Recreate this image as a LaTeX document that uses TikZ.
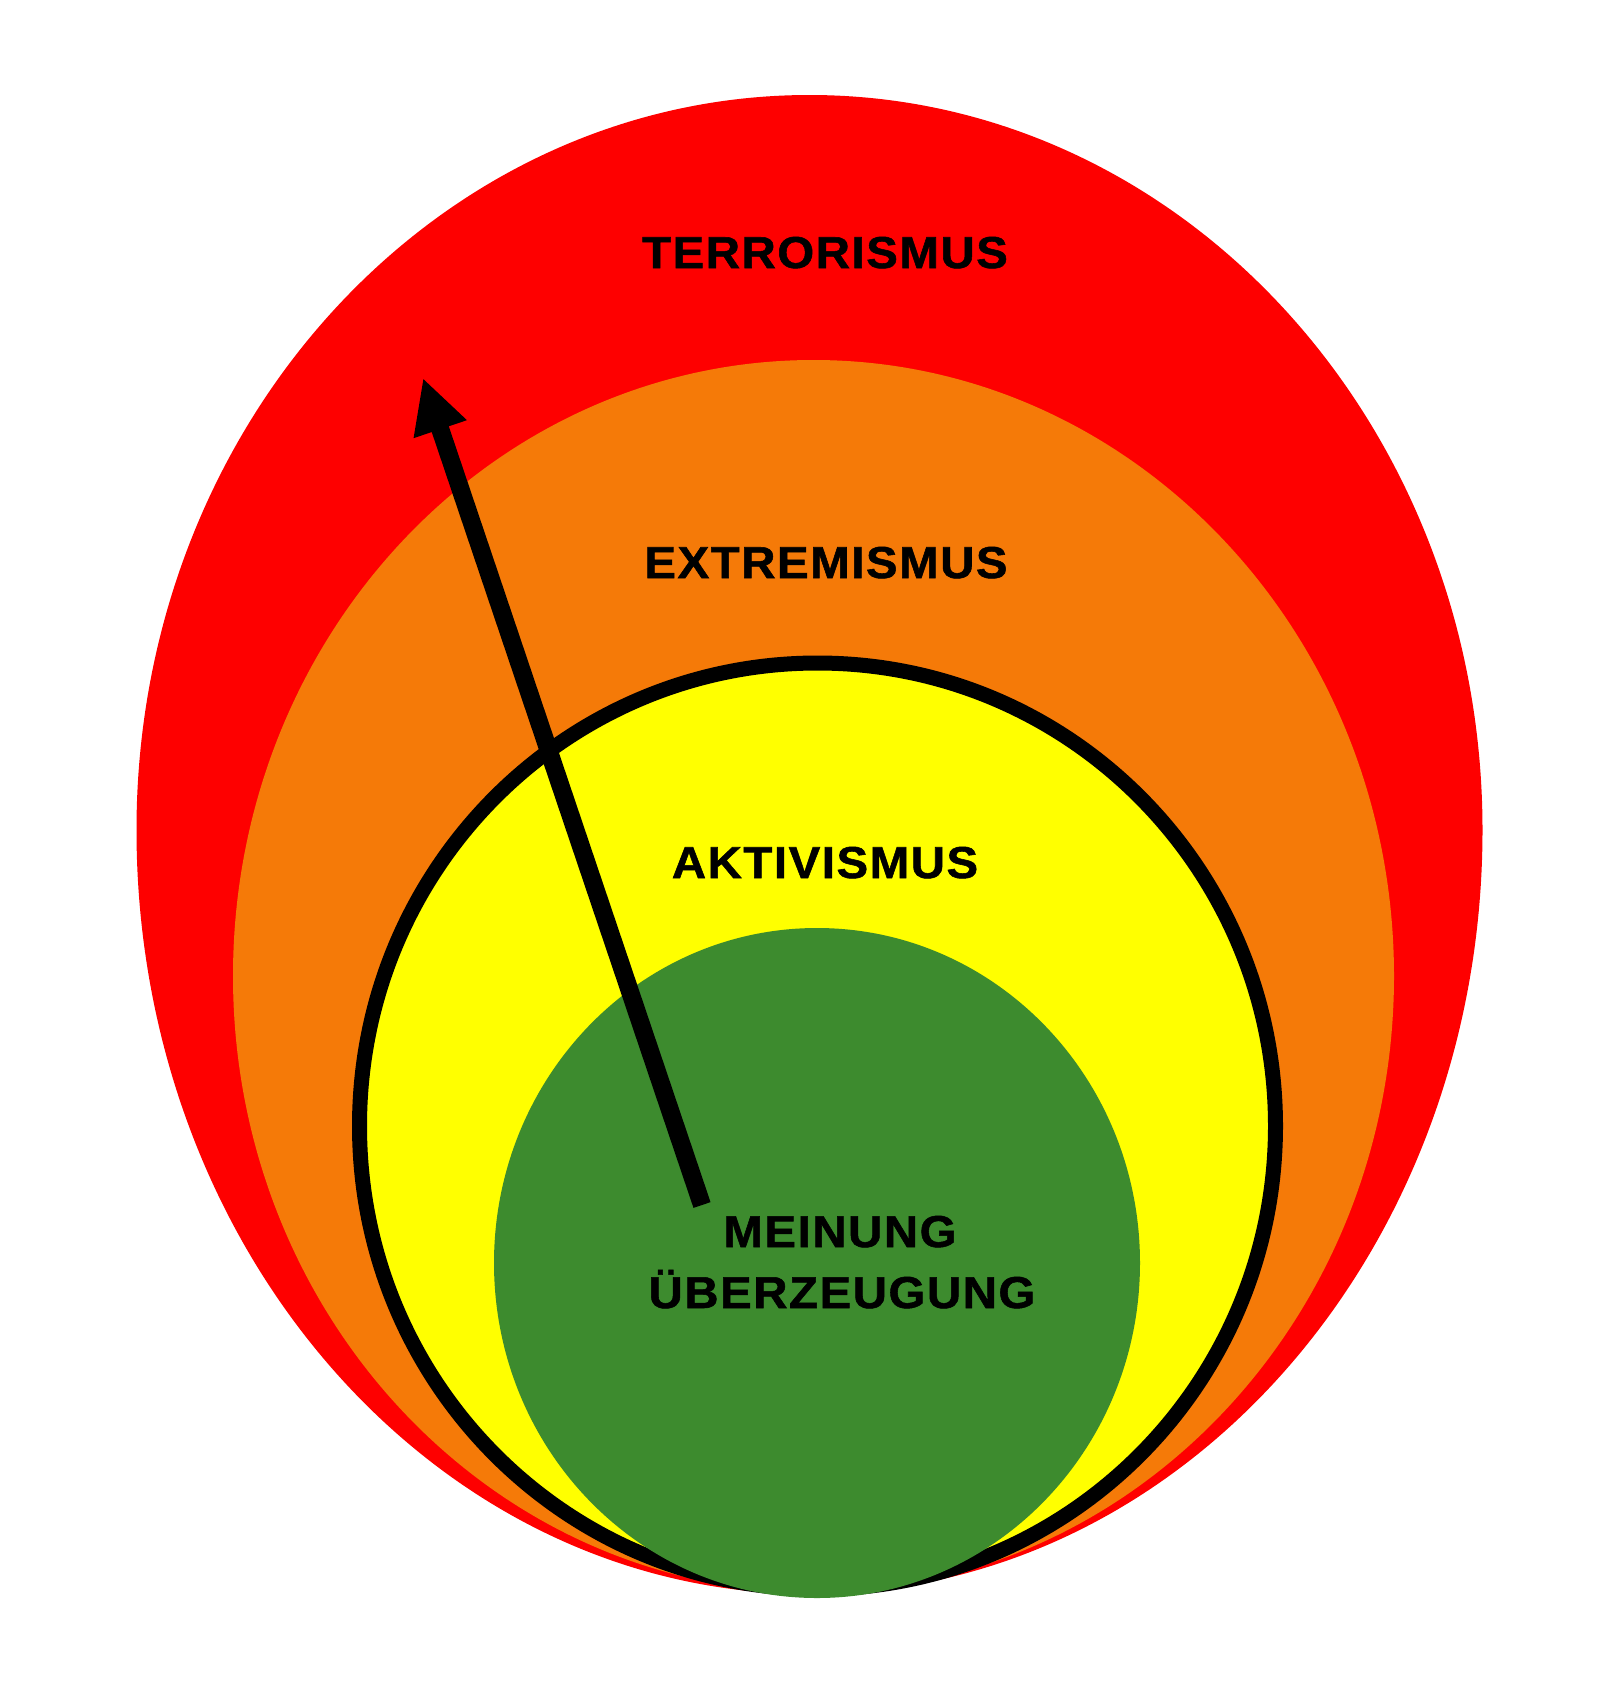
\documentclass[tikz,border=0pt]{standalone}
\usepackage{fontspec}
\setmainfont{Liberation Sans}[LetterSpace=3.5,FakeStretch=1.06,BoldFeatures={FakeBold=1.2}]
\usetikzlibrary{arrows.meta}
\definecolor{cRed}{HTML}{FE0000}
\definecolor{cOrange}{HTML}{F57A08}
\definecolor{cYellow}{HTML}{FFFF00}
\definecolor{cGreen}{HTML}{3D8B2E}
\begin{document}
\begin{tikzpicture}[x=1pt,y=-1pt,
  lbl/.style={anchor=base,inner sep=0pt,font=\fontsize{44.7}{61}\selectfont\bfseries,text=black}]
\useasboundingbox (0,0) rectangle (1609,1687);
\fill[white] (0,0) rectangle (1609,1687);
% layers
\fill[cRed] (136.5,830) arc[start angle=180,end angle=360,x radius=673,y radius=735]
   arc[start angle=0,end angle=180,x radius=673,y radius=764] -- cycle;
\fill[cOrange] (813.5,976) ellipse [x radius=580.5, y radius=616];
\filldraw[fill=cYellow,draw=black,line width=15pt] (817.5,1126) ellipse [x radius=458, y radius=463];
\fill[cGreen] (817,1263) ellipse [x radius=323, y radius=335];
% labels
\node[lbl] (terror) at (825,268) {TERRORISMUS};
\node[lbl] (extrem) at (826,578) {EXTREMISMUS};
\node[lbl] (aktiv) at (825,878) {AKTIVISMUS};
\node[lbl] (mein) at (840,1247) {MEINUNG};
\node[lbl] (ueber) at (842,1308) {ÜBERZEUGUNG};
% arrow
\coordinate (arrStart) at (702,1205);
\coordinate (arrEnd) at (423,378);
\draw[line width=18pt,-{Triangle[length=54pt,width=52pt]}] (arrStart) -- (arrEnd);
\end{tikzpicture}
\end{document}
